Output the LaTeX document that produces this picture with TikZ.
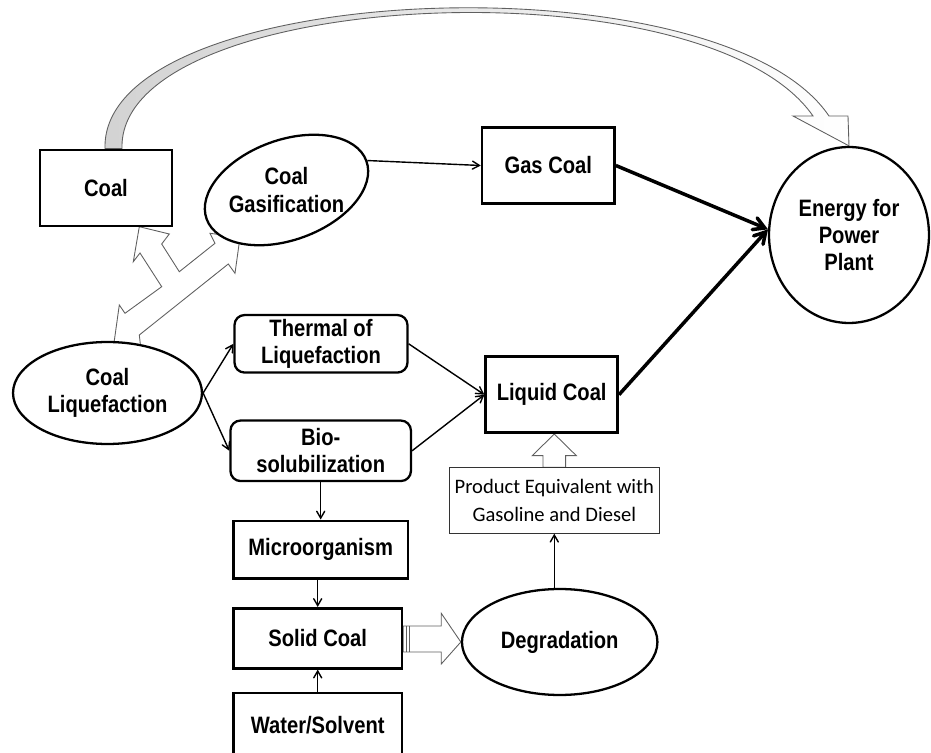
\documentclass[tikz,border=0pt]{standalone}
\usepackage{fontspec}
\newfontfamily\arialfont[FakeStretch=0.85]{Liberation Sans}
\newfontfamily\calfont{Carlito}
\usetikzlibrary{calc}
\usetikzlibrary{positioning}
\usetikzlibrary{shapes.geometric}
\usetikzlibrary{arrows,backgrounds}
\tikzset{
	>=angle 60,
	kasten/.style={
		rectangle,
		draw=black, line width=1.5pt,
		inner sep=0pt,
		align=center},
	rkasten/.style={
		kasten,
		rounded corners=0.2cm,
		line width=1.3pt},
	oval/.style={
		ellipse,
		draw=black, line width=1.3pt,
		fill=white,
		inner sep=0pt,
		align=center},
	prodkasten/.style={
		rectangle,
		draw=black!80, line width=0.5pt,
		inner sep=0pt,
		align=center,
		font=\calfont\mdseries\fontsize{11.7pt}{15.5pt}\selectfont},
	line/.style={draw, line width=0.8pt, ->},
	dickline/.style={draw, line width=2pt, ->},
	blockpfeil/.style={draw=gray!75!black, line width=0.5pt, fill=white},
}

\begin{document}
\begin{tikzpicture}
	[x=0.02cm, y=-0.02cm,
	font=\arialfont\bfseries\fontsize{13.5pt}{15.5pt}\selectfont]
	\useasboundingbox (0,0) rectangle (931,753);
	% nodes
	\node[kasten, minimum width=2.64cm, minimum height=1.52cm] (coal) at (106,188) {Coal};
	\node[oval, rotate=20, minimum width=3.4cm, minimum height=2cm] (gasif) at (286.5,190) {};
	\node[align=center] (gasiftext) at (gasif.center) {Coal\\Gasification};
	\node[kasten, minimum width=2.65cm, minimum height=1.51cm] (gascoal) at (548.3,165.5) {Gas Coal};
	\node[oval, minimum width=3.2cm, minimum height=3.52cm] (energy) at (849,235) {Energy for\\Power\\Plant};
	\node[oval, minimum width=3.78cm, minimum height=2.04cm] (liquef) at (107.5,393) {Coal\\Liquefaction};
	\node[rkasten, minimum width=3.46cm, minimum height=1.15cm] (thermal) at (321,343.8) {Thermal of\\Liquefaction};
	\node[rkasten, minimum width=3.61cm, minimum height=1.21cm] (bio) at (320.7,450.8) {Bio-\\solubilization};
	\node[kasten, minimum width=2.64cm, minimum height=1.52cm] (liquid) at (551.7,394.7) {Liquid Coal};
	\node[prodkasten, minimum width=4.19cm, minimum height=1.31cm] (product) at (554.3,500.5) {Product Equivalent with\\Gasoline and Diesel};
	\node[kasten, minimum width=3.49cm, minimum height=1.15cm] (micro) at (320.7,549.6) {Microorganism};
	\node[kasten, minimum width=3.37cm, minimum height=1.2cm] (solid) at (317.7,638.3) {Solid Coal};
	\node[oval, minimum width=3.91cm, minimum height=2.12cm] (degrad) at (559.7,642) {Degradation};
	\node[kasten, minimum width=3.37cm, minimum height=1.28cm] (water) at (317.7,725) {Water/Solvent};
	% connectors
	\path[line] (gasif.east) -- (gascoal.west);
	\path[dickline] (gascoal.east) -- (energy.176);
	\path[dickline] (liquid.east) -- (energy.176);
	\path[line] (liquef.east) -- (thermal.west);
	\path[line] (liquef.east) -- (bio.west);
	\path[line] (thermal.east) -- (liquid.west);
	\path[line] (bio.east) -- (liquid.west);
	\path[line] (bio.south) -- (micro.north);
	\path[line] (micro.south -| solid.north) -- (solid.north);
	\path[line] (water.north) -- (solid.south);
	\path[line] (product.south |- degrad.north) -- (product.south);
	% block arrows
	\begin{scope}[on background layer]
		\draw[blockpfeil, left color=gray!35, right color=white]
			($(coal.north)+(-1,0)$) .. controls (100,-20) and (720,-45) .. (829,116)
			-- (848,116) -- (energy.north) -- (793,116) -- (813,116)
			.. controls (705,-40) and (117,-12) .. ($(coal.north)+(16,0)$) -- cycle;
		\draw[blockpfeil] (113,350) -- (119.3,305) -- (125,313.3) -- (161.7,286.7)
			-- (140,253) -- (133.3,261.7) -- (139.3,226.7) -- (169.3,234)
			-- (161.7,244) -- (179.3,271.7) -- (215,243.3) -- (210,233.3)
			-- (240,237.3) -- (235,273.3) -- (228.3,264) -- (139.3,335)
			-- (141,350) -- cycle;
		\draw[blockpfeil] ($(product.north)+(-11.3,0)$) -- ++(0,-11.7) -- ++(-10.7,0)
			-- (product.north |- liquid.south) -- ($(product.north)+(22,-11.7)$)
			-- ++(-10.7,0) -- ($(product.north)+(11.3,0)$) -- cycle;
		\draw[blockpfeil] ($(solid.east)+(0,-12.3)$) -- ++(38,0) -- ++(0,-12.7)
			-- (degrad.west) -- ($(solid.east)+(38,25.7)$) -- ++(0,-12)
			-- ($(solid.east)+(0,13.7)$) -- cycle;
		\draw[blockpfeil] ($(solid.east)+(3,-12.3)$) -- ++(0,26);
		\draw[blockpfeil] ($(solid.east)+(6,-12.3)$) -- ++(0,26);
	\end{scope}
\end{tikzpicture}
\end{document}
